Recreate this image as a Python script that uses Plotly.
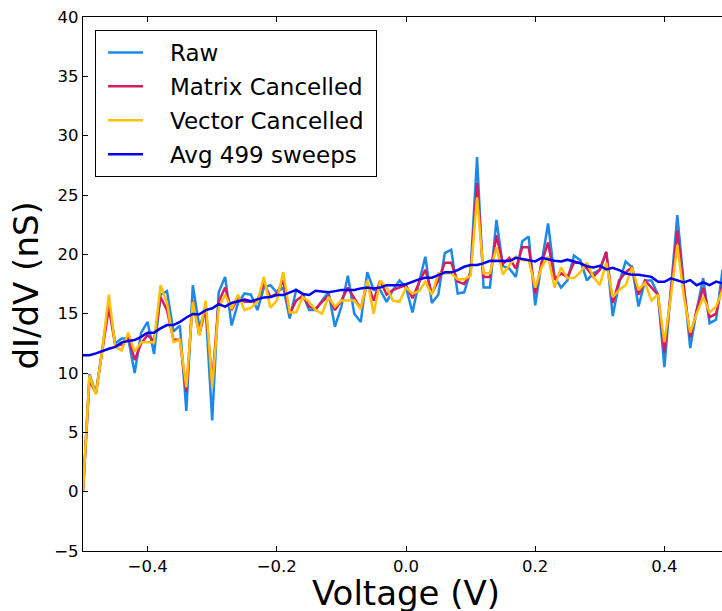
import plotly.graph_objects as go

# Voltage grid: -0.50 ... 0.50 in 0.01 V steps
voltage = [round(-0.5 + 0.01 * i, 2) for i in range(101)]

raw = [0.0, 9.9, 8.3, 12.0, 15.9, 12.5, 12.9, 12.9, 10.0, 13.4,
       14.3, 11.6, 16.6, 16.9, 13.5, 14.0, 6.8, 17.4, 13.9, 15.3,
       6.0, 16.8, 18.1, 14.0, 15.9, 16.7, 16.6, 15.3, 17.2, 17.4,
       16.8, 17.2, 14.6, 17.0, 16.7, 15.3, 15.3, 16.1, 16.8, 13.9,
       15.6, 18.2, 15.0, 14.3, 18.5, 17.0, 17.0, 16.0, 17.0, 17.8,
       17.2, 15.1, 17.6, 19.8, 15.9, 16.6, 20.1, 20.4, 16.7, 16.8,
       18.6, 28.2, 17.2, 17.2, 22.9, 19.0, 18.8, 18.1, 21.1, 21.5,
       15.7, 19.3, 22.6, 18.1, 17.2, 17.8, 19.9, 19.5, 17.8, 18.4,
       18.7, 20.2, 14.8, 17.6, 19.4, 18.9, 15.6, 17.8, 17.8, 16.6,
       10.5, 17.0, 23.3, 17.5, 12.1, 15.3, 18.0, 14.2, 14.5, 18.7,
       17.0]

matrix = [0.0, 9.4, 8.3, 12.0, 15.5, 12.3, 12.4, 13.1, 11.1, 12.5,
          13.2, 12.7, 16.4, 15.3, 12.8, 12.8, 8.4, 16.1, 13.2, 15.5,
          9.2, 16.0, 17.2, 15.3, 16.3, 16.0, 16.0, 16.1, 17.6, 16.4,
          16.7, 17.8, 15.0, 16.1, 16.5, 15.6, 15.4, 16.0, 16.5, 15.3,
          16.1, 17.2, 16.3, 15.4, 17.6, 16.1, 17.8, 16.6, 17.0, 17.2,
          17.4, 16.3, 17.6, 18.7, 16.7, 17.8, 19.3, 19.3, 17.7, 17.5,
          18.4, 26.0, 18.1, 18.1, 21.6, 19.2, 19.7, 18.8, 20.6, 20.6,
          16.7, 19.3, 21.0, 17.9, 18.4, 18.1, 19.3, 19.3, 18.8, 18.1,
          18.7, 20.2, 15.9, 17.8, 18.5, 18.9, 16.6, 17.8, 17.2, 16.6,
          11.7, 16.8, 22.0, 17.2, 13.0, 15.3, 17.2, 14.7, 15.0, 17.5,
          16.8]

vector = [0.0, 9.8, 8.2, 12.0, 16.6, 12.2, 11.9, 13.4, 11.8, 12.6,
          12.6, 12.6, 17.4, 15.9, 12.6, 12.8, 8.8, 16.0, 13.2, 16.1,
          8.8, 15.5, 16.6, 15.4, 16.6, 15.3, 15.5, 16.0, 18.1, 15.5,
          16.1, 18.5, 15.1, 15.1, 16.4, 16.0, 15.3, 15.0, 16.4, 15.6,
          16.1, 16.1, 16.1, 15.4, 17.8, 15.0, 17.8, 17.2, 16.1, 16.0,
          17.2, 16.7, 16.9, 17.7, 16.6, 18.4, 18.4, 18.4, 17.9, 17.9,
          18.2, 24.8, 18.4, 18.4, 20.6, 18.3, 19.1, 19.8, 19.5, 19.5,
          17.2, 18.9, 19.8, 17.2, 18.9, 18.0, 18.0, 18.5, 19.3, 18.1,
          17.4, 19.3, 16.4, 17.0, 17.4, 18.9, 17.0, 17.6, 16.1, 16.6,
          12.6, 16.4, 20.8, 16.5, 13.4, 15.0, 16.4, 15.1, 15.6, 17.0,
          16.8]

avg = [11.5, 11.5, 11.65, 11.87, 12.04, 12.2, 12.58, 12.69, 12.78, 13.05,
       13.4, 13.4, 13.76, 14.04, 14.04, 14.3, 14.68, 14.97, 14.95, 15.3,
       15.45, 15.8, 15.6, 15.9, 16.08, 16.2, 16.05, 16.2, 16.37, 16.4,
       16.57, 16.57, 16.76, 17.0, 16.65, 16.57, 16.93, 16.85, 16.8, 16.9,
       17.0, 17.0, 17.0, 17.13, 17.2, 17.13, 17.2, 17.4, 17.4, 17.4,
       17.48, 17.69, 17.89, 18.03, 18.03, 18.25, 18.48, 18.48, 18.67, 18.95,
       19.1, 19.1, 19.24, 19.46, 19.46, 19.4, 19.43, 19.7, 19.6, 19.46,
       19.4, 19.7, 19.55, 19.46, 19.4, 19.55, 19.4, 19.24, 19.0, 18.9,
       19.04, 18.73, 18.87, 18.67, 18.4, 18.27, 18.27, 18.2, 18.1, 17.69,
       17.69, 17.97, 17.83, 17.64, 17.83, 17.4, 17.64, 17.4, 17.7, 17.55,
       17.5]

series_names = ["Raw", "Matrix Cancelled", "Vector Cancelled", "Avg 499 sweeps"]
series_colors = ["#1E88E5", "#D81B60", "#FFC107", "#0000FF"]
series_values = [raw, matrix, vector, avg]

x_ticks = [-0.4, -0.2, 0.0, 0.2, 0.4]
x_ticktext = ["\u22120.4", "\u22120.2", "0.0", "0.2", "0.4"]
y_ticks = [-5, 0, 5, 10, 15, 20, 25, 30, 35, 40]
y_ticktext = ["\u22125", "0", "5", "10", "15", "20", "25", "30", "35", "40"]

FONT = "DejaVu Sans"
NB = "\u00a0"

fig = go.Figure()
for name, color, vals in zip(series_names, series_colors, series_values):
    fig.add_trace(go.Scatter(
        x=voltage, y=vals, mode="lines", name=NB * 3 + name + NB,
        legendgroup=name,
        line=dict(color=color, width=2.5),
    ))

fig.update_layout(
    width=722, height=611,
    margin=dict(l=83, r=0, t=17, b=60),
    paper_bgcolor="white", plot_bgcolor="white",
    font=dict(family=FONT, color="black"),
    showlegend=True,
    legend=dict(
        x=(95 - 83) / 639, y=1 - (30 - 17) / 534,
        xanchor="left", yanchor="top",
        bgcolor="white", bordercolor="black", borderwidth=1,
        font=dict(family=FONT, size=23, color="black"),
        tracegroupgap=1,
        indentation=7,
        itemwidth=35,
    ),
    xaxis=dict(
        range=[-0.5, -0.5 + 639 / 646],
        tickvals=x_ticks, ticktext=x_ticktext,
        ticks="inside", ticklen=5, tickwidth=1, tickcolor="black",
        showline=True, linecolor="black", linewidth=1.3, mirror="ticks",
        showgrid=False, zeroline=False,
        tickfont=dict(family=FONT, size=16.5, color="black"),
    ),
    yaxis=dict(
        range=[-5, 40],
        tickvals=y_ticks, ticktext=y_ticktext,
        ticks="inside", ticklen=5, tickwidth=1, tickcolor="black",
        showline=True, linecolor="black", linewidth=1.3, mirror=False,
        showgrid=False, zeroline=False,
        tickfont=dict(family=FONT, size=16.5, color="black"),
    ),
    annotations=[
        dict(text="Voltage (V)", xref="x", yref="paper", x=0.0, y=0,
             xanchor="center", yanchor="top", yshift=-20, showarrow=False,
             font=dict(family=FONT, size=34, color="black")),
        dict(text="dI/dV (nS)", xref="paper", yref="paper", x=0, y=0.497,
             xanchor="right", yanchor="middle", xshift=-35, textangle=-90,
             showarrow=False,
             font=dict(family=FONT, size=34, color="black")),
    ],
)

fig.write_html("out.html")
